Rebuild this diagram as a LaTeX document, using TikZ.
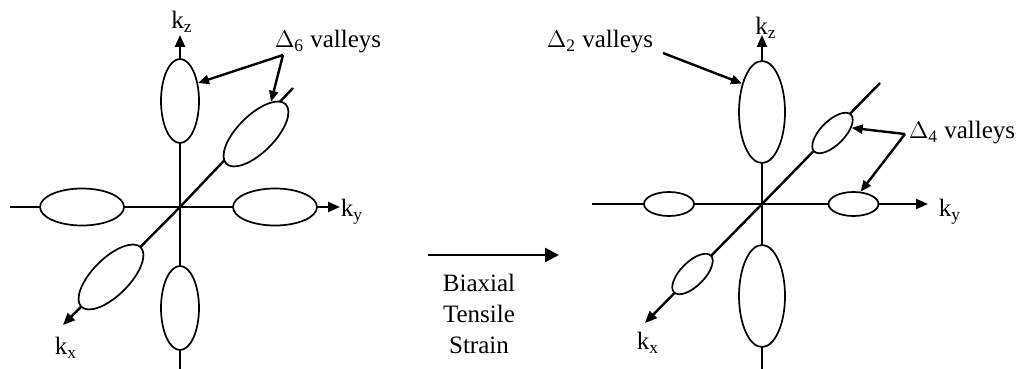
\documentclass[tikz,border=0pt]{standalone}
\usepackage{fontspec}
\setmainfont{Liberation Serif}
\usetikzlibrary{arrows.meta,shapes.geometric}

\begin{document}
\begin{tikzpicture}[
    x=0.5pt, y=-0.5pt,
    font=\fontsize{12.5}{15.5}\selectfont,
    axis/.style={line width=1.2pt},
    axisarrow/.style={line width=1.2pt, -{Triangle[length=6pt, width=5pt]}},
    pointer/.style={line width=1.2pt, -{Triangle[length=5.5pt, width=4.5pt]}},
    bigarrow/.style={line width=1.2pt, -{Triangle[length=7pt, width=7pt]}},
    valley/.style={ellipse, draw, line width=0.85pt, fill=white, inner sep=0pt},
    lbl/.style={inner sep=0pt},
]
\useasboundingbox (0,0) rectangle (1022,369);

% unstrained: six equal valleys
\coordinate (Lo) at (180,207);
\coordinate (Lzb) at (180,369);
\coordinate (Lzt) at (180,35);
\coordinate (Lyl) at (10,207);
\coordinate (Lyr) at (340,207);
\coordinate (Lxt) at (293,88);
\coordinate (Lxb) at (63,325);
\draw[axis] (Lzb) -- (Lo);
\draw[axisarrow] (Lo) -- (Lzt);
\draw[axis] (Lyl) -- (Lo);
\draw[axisarrow] (Lo) -- (Lyr);
\draw[axis] (Lxt) -- (Lo);
\draw[axisarrow] (Lo) -- (Lxb);

\node[valley, minimum width=19pt, minimum height=42pt] (lz1) at (180,101) {};
\node[valley, minimum width=19pt, minimum height=42pt] (lz2) at (180,308) {};
\node[valley, minimum width=42pt, minimum height=18.5pt] (ly1) at (82,207) {};
\node[valley, minimum width=42pt, minimum height=18.5pt] (ly2) at (275,207) {};
\node[valley, minimum width=42pt, minimum height=18.5pt, rotate=45] (lx1) at (256,134) {};
\node[valley, minimum width=42pt, minimum height=18.5pt, rotate=45] (lx2) at (111,277) {};

\node[lbl] (lkz) at (182,22) {k\textsubscript{z}};
\node[lbl] (lky) at (352,212) {k\textsubscript{y}};
\node[lbl] (lkx) at (66,348) {k\textsubscript{x}};

\node[lbl] (d6) at (328,42) {$\Delta$\textsubscript{6} valleys};
\coordinate (d6s) at (283,55);
\draw[pointer] (d6s) -- (lz1.45);
\draw[pointer] (d6s) -- (lx1.20);

% strain arrow
\coordinate (sa) at (428,255);
\coordinate (sb) at (559,255);
\draw[bigarrow] (sa) -- (sb);
\node[lbl, align=center] (strain) at (479,314) {Biaxial\\Tensile\\Strain};

% strained: two lowered, four raised
\coordinate (Ro) at (762,204);
\coordinate (Rzb) at (762,369);
\coordinate (Rzt) at (762,35);
\coordinate (Ryl) at (592,204);
\coordinate (Ryr) at (928,204);
\coordinate (Rxt) at (880,83);
\coordinate (Rxb) at (645,323);
\draw[axis] (Rzb) -- (Ro);
\draw[axisarrow] (Ro) -- (Rzt);
\draw[axis] (Ryl) -- (Ro);
\draw[axisarrow] (Ro) -- (Ryr);
\draw[axis] (Rxt) -- (Ro);
\draw[axisarrow] (Ro) -- (Rxb);

\node[valley, minimum width=23pt, minimum height=51pt] (rz1) at (762,112) {};
\node[valley, minimum width=23pt, minimum height=51pt] (rz2) at (762,296) {};
\node[valley, minimum width=25pt, minimum height=12pt] (ry1) at (669,204) {};
\node[valley, minimum width=25pt, minimum height=12pt] (ry2) at (853.5,204) {};
\node[valley, minimum width=26pt, minimum height=12pt, rotate=45] (rx1) at (832.5,133) {};
\node[valley, minimum width=26pt, minimum height=12pt, rotate=45] (rx2) at (692.5,274) {};

\node[lbl] (rkz) at (766,28) {k\textsubscript{z}};
\node[lbl] (rky) at (950,212) {k\textsubscript{y}};
\node[lbl] (rkx) at (648,343) {k\textsubscript{x}};

\node[lbl] (d2) at (600,42) {$\Delta$\textsubscript{2} valleys};
\coordinate (d2s) at (663,53);
\draw[pointer] (d2s) -- (rz1.125);

\node[lbl] (d4) at (962,133) {$\Delta$\textsubscript{4} valleys};
\coordinate (d4s) at (905,134);
\draw[pointer] (d4s) -- (rx1.-30);
\draw[pointer] (d4s) -- (ry2.60);
\end{tikzpicture}
\end{document}
